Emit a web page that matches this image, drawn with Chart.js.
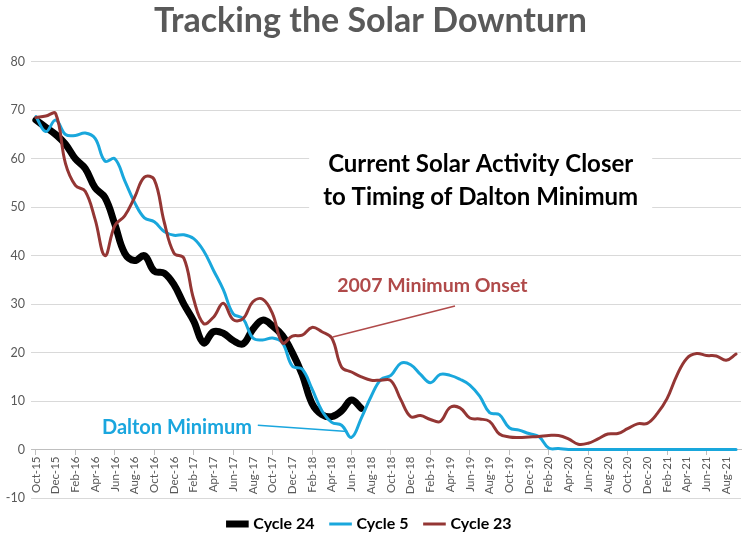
<!DOCTYPE html>
<html>
<head>
<meta charset="utf-8">
<script src="https://cdn.jsdelivr.net/npm/chart.js@4/dist/chart.umd.min.js"></script>
<style>
  html, body { margin: 0; padding: 0; background: #fff; }
  #wrap { width: 752px; height: 545px; }
</style>
</head>
<body>
<div id="wrap"><canvas id="chart-line" width="752" height="545"></canvas></div>
<script>
// monthly, Oct-15 .. Sep-21
const months = ['Oct-15','Nov-15','Dec-15',
  'Jan-16','Feb-16','Mar-16','Apr-16','May-16','Jun-16','Jul-16','Aug-16','Sep-16','Oct-16','Nov-16','Dec-16',
  'Jan-17','Feb-17','Mar-17','Apr-17','May-17','Jun-17','Jul-17','Aug-17','Sep-17','Oct-17','Nov-17','Dec-17',
  'Jan-18','Feb-18','Mar-18','Apr-18','May-18','Jun-18','Jul-18','Aug-18','Sep-18','Oct-18','Nov-18','Dec-18',
  'Jan-19','Feb-19','Mar-19','Apr-19','May-19','Jun-19','Jul-19','Aug-19','Sep-19','Oct-19','Nov-19','Dec-19',
  'Jan-20','Feb-20','Mar-20','Apr-20','May-20','Jun-20','Jul-20','Aug-20','Sep-20','Oct-20','Nov-20','Dec-20',
  'Jan-21','Feb-21','Mar-21','Apr-21','May-21','Jun-21','Jul-21','Aug-21','Sep-21'];

const cycle24 = [68, 66.5, 65, 63, 60, 58, 54, 52, 46.5, 40.5, 39, 40, 36.8, 36.4, 34,
  30, 26.5, 22, 24.3, 24, 22.5, 21.8, 24.8, 26.7, 25.5, 23.5, 20,
  15.5, 9.5, 7.2, 6.8, 8, 10.2, 8.5];

const cycle5 = [68.7, 65.6, 68, 65, 64.8, 65.3, 64.2, 59.5, 60, 55.5, 51, 47.8, 47, 45, 44.2,
  44.3, 43.5, 41, 37, 33, 28, 27, 23, 22.6, 23, 22, 17.2,
  16.6, 12.5, 8, 5.6, 5, 2.5, 6.5, 11, 14.5, 15.3, 17.8, 17.5,
  15.5, 13.8, 15.5, 15.3, 14.5, 13.3, 11, 7.6, 7.2, 4.5, 4, 3.3,
  2.7, 0.3, 0.2, 0, 0, 0, 0, 0, 0, 0, 0, 0,
  0, 0, 0, 0, 0, 0, 0, 0, 0];

const cycle23 = [68.5, 68.8, 69.3, 59, 54.5, 53.3, 47.5, 40, 46.2, 48.2, 52, 56.2, 55.7, 47, 40.5,
  39.5, 31, 26, 27.3, 30.2, 26.8, 27, 30.5, 31, 28, 22, 23.4,
  23.6, 25.2, 24.3, 23, 17, 16, 15, 14.3, 14.3, 14.2, 10.3, 6.8,
  7, 6.2, 5.8, 8.7, 8.6, 6.5, 6.3, 5.8, 3.2, 2.6, 2.5, 2.6,
  2.7, 2.9, 2.9, 2.2, 1.1, 1.3, 2.2, 3.2, 3.3, 4.3, 5.3, 5.4,
  7.4, 10.5, 15.3, 18.8, 19.8, 19.4, 19.3, 18.4, 19.7];

const yTicks = { min: -10, max: 80, step: 10 };

// notes placed in data units (category index, value)
const noteBox = { lines: ['Current Solar Activity Closer', 'to Timing of Dalton Minimum'], x: 45.1, y: [58.8, 52] };
const note2007 = { text: '2007 Minimum Onset', x: 40.2, y: 33.7, from: [42.5, 29.6], to: [30.1, 23.2] };
const noteDalton = { text: 'Dalton Minimum', x: 14.3, y: 4.6, from: [22.5, 5], to: [31.6, 3.7] };

const FONT = 'Lato, "Open Sans", sans-serif';

const notes = {
  id: 'notes',
  beforeDatasetsDraw(chart) {
    const c = chart.ctx, xs = chart.scales.x, ys = chart.scales.y;
    c.save();
    c.font = 'bold 24px ' + FONT;
    const w = Math.max(...noteBox.lines.map(t => c.measureText(t).width));
    const cx = xs.getPixelForValue(noteBox.x);
    const top = ys.getPixelForValue(noteBox.y[0]) - 20;
    const bot = ys.getPixelForValue(noteBox.y[1]) + 18;
    c.fillStyle = '#fff';
    c.fillRect(cx - w / 2 - 14, top, w + 28, bot - top);
    c.restore();
  },
  afterDatasetsDraw(chart) {
    const c = chart.ctx, xs = chart.scales.x, ys = chart.scales.y;
    const px = (p) => [xs.getPixelForValue(p[0]), ys.getPixelForValue(p[1])];
    c.save();
    c.textAlign = 'center';
    c.textBaseline = 'middle';
    c.font = 'bold 24px ' + FONT;
    c.fillStyle = '#000';
    noteBox.lines.forEach((t, i) => c.fillText(t, xs.getPixelForValue(noteBox.x), ys.getPixelForValue(noteBox.y[i])));

    c.font = 'bold 19.5px ' + FONT;
    c.fillStyle = '#b04a4a';
    c.fillText(note2007.text, xs.getPixelForValue(note2007.x), ys.getPixelForValue(note2007.y));
    c.strokeStyle = '#b04a4a';
    c.lineWidth = 1.5;
    let a = px(note2007.from), b = px(note2007.to);
    c.beginPath(); c.moveTo(a[0], a[1]); c.lineTo(b[0], b[1]); c.stroke();

    c.font = 'bold 20px ' + FONT;
    c.fillStyle = '#1aa6de';
    c.fillText(noteDalton.text, xs.getPixelForValue(noteDalton.x), ys.getPixelForValue(noteDalton.y));
    c.strokeStyle = '#1aa6de';
    a = px(noteDalton.from); b = px(noteDalton.to);
    c.beginPath(); c.moveTo(a[0], a[1]); c.lineTo(b[0], b[1]); c.stroke();
    c.restore();
  }
};

const ctx = document.getElementById('chart-line');
const myLineChart = new Chart(ctx, {
  type: 'line',
  data: {
    labels: months,
    datasets: [
      { label: 'Cycle 24', data: cycle24, borderColor: '#000000', backgroundColor: '#000000', borderWidth: 7, order: 3 },
      { label: 'Cycle 5', data: cycle5, borderColor: '#19a7dc', backgroundColor: '#19a7dc', borderWidth: 3, order: 2 },
      { label: 'Cycle 23', data: cycle23, borderColor: '#943634', backgroundColor: '#943634', borderWidth: 3, order: 1 }
    ]
  },
  options: {
    responsive: false,
    animation: false,
    layout: { padding: { left: 0, right: 11, top: 0, bottom: 3 } },
    elements: {
      point: { radius: 0 },
      line: { tension: 0.4, borderCapStyle: 'round', borderJoinStyle: 'round' }
    },
    plugins: {
      title: {
        display: true,
        text: 'Tracking the Solar Downturn',
        color: '#595959',
        font: { family: FONT, size: 34, weight: 'bold' },
        padding: { top: 1, bottom: 20 }
      },
      legend: {
        position: 'bottom',
        labels: {
          usePointStyle: true,
          pointStyle: 'line',
          boxWidth: 30,
          color: '#000',
          padding: 18,
          font: { family: FONT, size: 16, weight: 'bold' },
          sort: (a, b) => a.datasetIndex - b.datasetIndex
        }
      },
      tooltip: { enabled: false }
    },
    scales: {
      x: {
        position: { y: 0 },
        offset: true,
        grid: {
          drawOnChartArea: false,
          tickLength: 5,
          tickColor: (c) => c.index % 2 === 0 ? '#bfbfbf' : 'rgba(0,0,0,0)'
        },
        border: { color: '#bfbfbf' },
        ticks: {
          autoSkip: false,
          maxRotation: 90,
          minRotation: 90,
          padding: 2,
          color: '#595959',
          font: { family: FONT, size: 11.5 },
          callback: function (v, i) { return i % 2 === 0 ? this.getLabelForValue(v) : null; }
        }
      },
      y: {
        min: yTicks.min,
        max: yTicks.max,
        ticks: { stepSize: yTicks.step, color: '#595959', font: { family: FONT, size: 12.5 }, padding: 6 },
        grid: { color: '#d9d9d9', drawTicks: false },
        border: { display: false },
        afterFit: (s) => { s.width = 31; }
      }
    }
  },
  plugins: [notes]
});
</script>
</body>
</html>
